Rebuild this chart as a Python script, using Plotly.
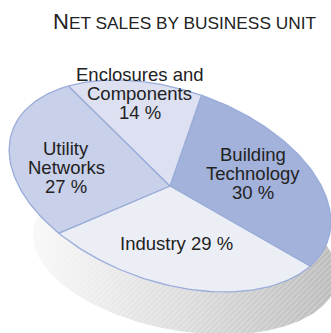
import numpy as np
import plotly.graph_objects as go

# Net sales split by business unit (share of total, %)
units = ["Building Technology", "Industry", "Utility Networks", "Enclosures and Components"]
shares = [30, 29, 27, 14]
unit_lines = [["Building", "Technology"], ["Industry"], ["Utility", "Networks"], ["Enclosures and", "Components"]]

slice_colors = ["#a3b2da", "#eceef6", "#c9d0ea", "#dce0f1"]
edge_color = "#9aacd9"
text_color = "#222222"
FONT = "Liberation Sans, Arial, sans-serif"

# Tilted-disc geometry (pixel space, y pointing down)
TOP = dict(cx=170.0, cy=186.0, a=167.0, b=96.0, tilt=np.deg2rad(19.15))
BASE = dict(cx=185.0, cy=255.0, a=154.0, b=76.0, tilt=np.deg2rad(10.0))
START_DEG = -90.0

# Label placement: radial fraction and angular nudge per unit, line pitch in px
label_r = [0.605, 0.568, 0.648, 0.876]
label_dt = [-6.8, 4.2, -6.5, 1.6]
LINE_PITCH = 19.0
LABEL_SIZE = 18.5


def ellipse_pt(t, g, r=1.0):
    ct, st = np.cos(t), np.sin(t)
    x = g["cx"] + r * (g["a"] * ct * np.cos(g["tilt"]) - g["b"] * st * np.sin(g["tilt"]))
    y = g["cy"] + r * (g["a"] * ct * np.sin(g["tilt"]) + g["b"] * st * np.cos(g["tilt"]))
    return x, y


fig = go.Figure()

# Side wall of the disc
tt = np.linspace(0, 2 * np.pi, 361)
bx, by = ellipse_pt(tt, BASE)
fig.add_trace(go.Scatter(
    x=bx, y=by, mode="lines", fill="toself", line=dict(width=0),
    fillgradient=dict(type="horizontal",
                      colorscale=[[0, "#f8f8f8"], [0.5, "#dcdcdc"], [1, "#bababa"]]),
    hoverinfo="skip", showlegend=False))
fig.add_trace(go.Scatter(
    x=bx, y=by, mode="lines", fill="toself", line=dict(width=0),
    fillcolor="rgba(0,0,0,0)",
    fillpattern=dict(shape="/", fgcolor="rgba(255,255,255,0.55)", bgcolor="rgba(0,0,0,0)",
                     size=4, solidity=0.35),
    hoverinfo="skip", showlegend=False))

# Pie slices on the top face
total = float(sum(shares))
angle = START_DEG
mids = []
for name, v, col in zip(units, shares, slice_colors):
    span = 360.0 * v / total
    ts = np.deg2rad(np.linspace(angle, angle + span, 80))
    ax, ay = ellipse_pt(ts, TOP)
    xs = np.concatenate([[TOP["cx"]], ax, [TOP["cx"]]])
    ys = np.concatenate([[TOP["cy"]], ay, [TOP["cy"]]])
    fig.add_trace(go.Scatter(
        x=xs, y=ys, mode="lines", fill="toself", fillcolor=col,
        line=dict(color=edge_color, width=1.3), name=name,
        hoverinfo="name", showlegend=False))
    mids.append(angle + span / 2)
    angle += span

# Labels
annotations = []
for lines, v, m, r, dt in zip(unit_lines, shares, mids, label_r, label_dt):
    lx, ly = ellipse_pt(np.deg2rad(m + dt), TOP, r)
    if len(lines) == 1:
        rows = [f"{lines[0]} {v} %"]
    else:
        rows = lines + [f"{v} %"]
    n = len(rows)
    for i, row in enumerate(rows):
        annotations.append(dict(
            x=float(lx), y=float(ly + (i - (n - 1) / 2) * LINE_PITCH),
            xref="x", yref="y", text=row, showarrow=False,
            xanchor="center", yanchor="middle",
            font=dict(family=FONT, size=LABEL_SIZE, color=text_color)))

# Title in small caps
annotations.append(dict(
    x=184, y=21, xref="x", yref="y", showarrow=False,
    xanchor="center", yanchor="middle",
    text="N<span style='font-size:17.3px'>ET SALES BY BUSINESS UNIT</span>",
    font=dict(family=FONT, size=22, color=text_color)))

fig.update_layout(
    width=331, height=333,
    margin=dict(l=0, r=0, t=0, b=0),
    paper_bgcolor="white", plot_bgcolor="white",
    xaxis=dict(range=[0, 331], visible=False, fixedrange=True),
    yaxis=dict(range=[333, 0], visible=False, fixedrange=True),
    annotations=annotations,
    showlegend=False,
)

fig.write_html("out.html")
